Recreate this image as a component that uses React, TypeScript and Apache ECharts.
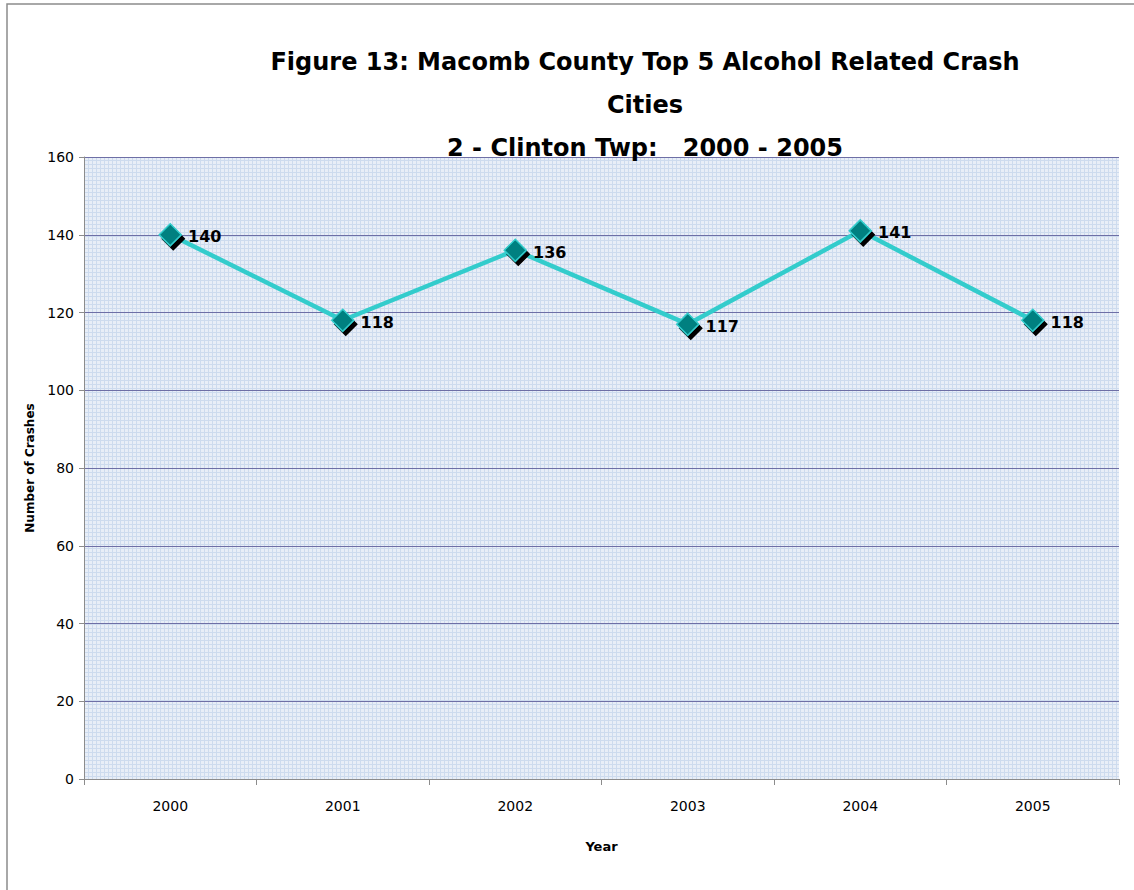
import React, { useEffect, useRef } from "react";
import * as echarts from "echarts";

const categories = ["2000", "2001", "2002", "2003", "2004", "2005"];
const crashes = [140, 118, 136, 117, 141, 118];
const titleLines = [
  "Figure 13: Macomb County Top 5 Alcohol Related Crash",
  "Cities",
  "2 - Clinton Twp:   2000 - 2005",
];

function makePattern() {
  const c = document.createElement("canvas");
  c.width = 4;
  c.height = 4;
  const ctx = c.getContext("2d")!;
  ctx.fillStyle = "#e8eef7";
  ctx.fillRect(0, 0, 4, 4);
  ctx.fillStyle = "#cddbee";
  ctx.fillRect(0, 0, 1, 4);
  ctx.fillRect(0, 0, 4, 1);
  return c;
}

export default function App() {
  const ref = useRef<HTMLDivElement>(null);
  useEffect(() => {
    document.body.style.margin = "0";
    const chart = echarts.init(ref.current!, null, { renderer: "svg" });
    chart.setOption({
      animation: false,
      backgroundColor: "#ffffff",
      graphic: [
        {
          type: "rect",
          shape: { x: 7, y: 4, width: 1200, height: 1000 },
          style: { fill: "none", stroke: "#8c8c8c", lineWidth: 1.5 },
          silent: true,
        },
      ],
      title: {
        text: titleLines.join("\n"),
        left: 640,
        textAlign: "center",
        top: 35,
        textStyle: {
          fontFamily: "DejaVu Sans",
          fontWeight: "bold",
          fontSize: 24,
          lineHeight: 43,
          color: "#000",
        },
      },
      grid: {
        left: 84,
        right: 15,
        top: 157,
        bottom: 111,
        show: true,
        backgroundColor: { image: makePattern(), repeat: "repeat" },
        borderWidth: 0,
      },
      xAxis: {
        type: "category",
        data: categories,
        boundaryGap: true,
        name: "Year",
        nameLocation: "middle",
        nameGap: 61,
        nameTextStyle: { fontFamily: "DejaVu Sans", fontWeight: "bold", fontSize: 13, color: "#000" },
        axisLine: { lineStyle: { color: "#8c8c8c", width: 1 } },
        axisTick: { show: true, length: 6, lineStyle: { color: "#8c8c8c" } },
        axisLabel: { fontFamily: "DejaVu Sans", fontSize: 14, color: "#000", margin: 20 },
      },
      yAxis: {
        type: "value",
        min: 0,
        max: 160,
        interval: 20,
        name: "Number of Crashes",
        nameLocation: "middle",
        nameGap: 46,
        nameTextStyle: { fontFamily: "DejaVu Sans", fontWeight: "bold", fontSize: 12, color: "#000" },
        axisLine: { show: true, lineStyle: { color: "#8c8c8c", width: 1 } },
        axisTick: { show: true, length: 5, lineStyle: { color: "#8c8c8c" } },
        axisLabel: { fontFamily: "DejaVu Sans", fontSize: 14, color: "#000", margin: 10 },
        splitLine: { show: true, lineStyle: { color: "#6e6fa6", width: 1 } },
      },
      series: [
        {
          type: "line",
          data: crashes,
          symbol: "diamond",
          symbolSize: 22,
          lineStyle: { color: "#33cccc", width: 4.5 },
          itemStyle: {
            color: "#008080",
            borderColor: "#33cccc",
            borderWidth: 1.5,
            shadowColor: "#000",
            shadowOffsetX: 3,
            shadowOffsetY: 4,
            shadowBlur: 0,
          },
          label: {
            show: true,
            position: "right",
            distance: 6,
            fontFamily: "DejaVu Sans",
            fontWeight: "bold",
            fontSize: 16,
            color: "#000",
            offset: [0, 2],
          },
          z: 3,
        },
      ],
    });
    return () => chart.dispose();
  }, []);
  return <div ref={ref} style={{ width: 1134, height: 890 }} />;
}
